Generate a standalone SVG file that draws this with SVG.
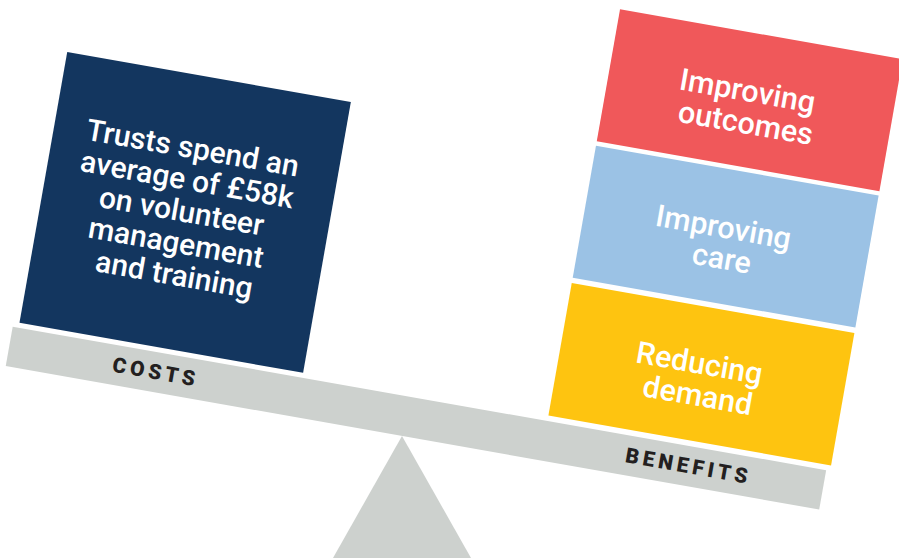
<svg xmlns="http://www.w3.org/2000/svg" width="899" height="558" viewBox="0 0 899 558">
  <style>
    .beam { fill: #cdd1ce; }
    .box-text { fill: #ffffff; font-family: Roboto, "Liberation Sans", sans-serif; font-weight: 500; text-anchor: middle; }
    .left-text { font-size: 30px; }
    .right-text { font-size: 30.5px; }
    .label { fill: #231f20; font-family: Roboto, "Liberation Sans", sans-serif; font-weight: 900; font-size: 21px; letter-spacing: 4px; }
  </style>
  <rect width="899" height="558" fill="#ffffff"/>

  <!-- fulcrum -->
  <polygon id="fulcrum" class="beam" points="402,436 333,558 471,558"/>

  <!-- balance beam and everything resting on it, tilted 10 degrees -->
  <g transform="translate(12.7 326.7) rotate(10)">
    <rect id="beam" class="beam" x="0" y="0" width="826" height="40"/>
    <text class="label" x="105" y="27">COSTS</text>
    <text class="label" x="626" y="27">BENEFITS</text>

    <g id="costs">
      <rect x="6" y="-280" width="288" height="275" fill="#13365f"/>
      <text class="box-text left-text">
        <tspan x="150" y="-197">Trusts spend an</tspan>
        <tspan x="150" y="-165">average of £58k</tspan>
        <tspan x="150" y="-133">on volunteer</tspan>
        <tspan x="150" y="-101">management</tspan>
        <tspan x="150" y="-69">and training</tspan>
      </text>
    </g>

    <g id="improving-outcomes">
      <rect x="543" y="-418" width="287" height="134" fill="#f0585a"/>
      <text class="box-text right-text">
        <tspan x="686.5" y="-349.5">Improving</tspan>
        <tspan x="686.5" y="-317.5">outcomes</tspan>
      </text>
    </g>

    <g id="improving-care">
      <rect x="543" y="-279.5" width="287" height="134" fill="#9bc2e5"/>
      <text class="box-text right-text">
        <tspan x="686.5" y="-211">Improving</tspan>
        <tspan x="686.5" y="-180">care</tspan>
      </text>
    </g>

    <g id="reducing-demand">
      <rect x="543" y="-140" width="287" height="134.5" fill="#fec410"/>
      <text class="box-text right-text">
        <tspan x="686.5" y="-73">Reducing</tspan>
        <tspan x="686.5" y="-41">demand</tspan>
      </text>
    </g>
  </g>
</svg>
